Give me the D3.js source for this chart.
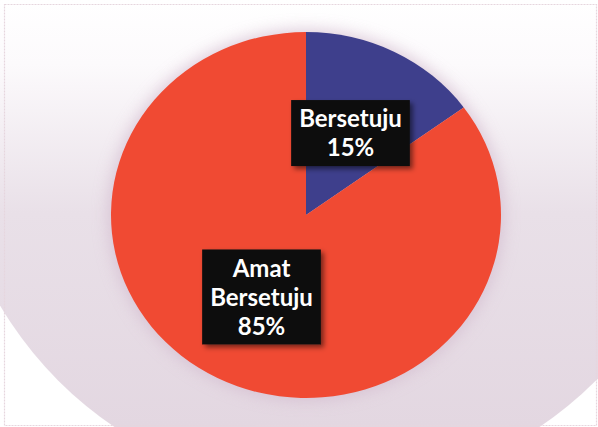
<!DOCTYPE html>
<html>
<head>
<meta charset="utf-8">
<script src="https://cdn.jsdelivr.net/npm/d3@7"></script>
<style>
  body { margin: 0; background: #fff; }
  svg { display: block; }
</style>
</head>
<body>
<div id="piechart"></div>
<script>
// data
var categories = ["Bersetuju", "Amat Bersetuju"];
var values = [15, 85];
var labelLines = [["Bersetuju", "15%"], ["Amat", "Bersetuju", "85%"]];
var colors = ["#3e3f8c", "#f04a33"];

var width = 598, height = 427;
var cx = 306, cy = 215;
var radius = 195;
var squash = 183 / 195; // the picture is a little wider than tall

var svg = d3.select("#piechart")
  .append("svg")
  .attr("width", width)
  .attr("height", height);

var defs = svg.append("defs");

// background fade, white at top to pinkish grey below
var grad = defs.append("linearGradient")
  .attr("id", "bg")
  .attr("x1", 0).attr("y1", 0).attr("x2", 0).attr("y2", 1);
grad.append("stop").attr("offset", "0%").attr("stop-color", "#ffffff");
grad.append("stop").attr("offset", "15%").attr("stop-color", "#fcfafc");
grad.append("stop").attr("offset", "50%").attr("stop-color", "#e9e0e8");
grad.append("stop").attr("offset", "100%").attr("stop-color", "#e3d7e1");

defs.append("clipPath").attr("id", "bgclip")
  .append("circle")
  .attr("cx", 327).attr("cy", 112).attr("r", 380);

defs.append("filter").attr("id", "glow")
  .attr("x", "-30%").attr("y", "-30%").attr("width", "160%").attr("height", "160%")
  .append("feGaussianBlur").attr("stdDeviation", 8);

var shadow = defs.append("filter").attr("id", "boxshadow")
  .attr("x", "-20%").attr("y", "-20%").attr("width", "150%").attr("height", "150%");
shadow.append("feDropShadow")
  .attr("dx", 3).attr("dy", 3).attr("stdDeviation", 2.5)
  .attr("flood-color", "#000").attr("flood-opacity", 0.5);

svg.append("rect")
  .attr("x", 0).attr("y", 0)
  .attr("width", width).attr("height", height)
  .attr("fill", "url(#bg)")
  .attr("clip-path", "url(#bgclip)");

// thin frame
svg.append("rect")
  .attr("x", 4.5).attr("y", 4.5)
  .attr("width", width - 6).attr("height", height - 6)
  .attr("fill", "none")
  .attr("stroke", "#e6d6de")
  .attr("stroke-width", 1.2)
  .attr("stroke-dasharray", "2,1");

var g = svg.append("g")
  .attr("transform", "translate(" + cx + "," + cy + ") scale(1," + squash + ")");

// soft glow round the pie
g.append("circle")
  .attr("r", radius + 3)
  .attr("fill", "#d3bccf")
  .attr("opacity", 0.75)
  .attr("filter", "url(#glow)");

var pie = d3.pie().sort(null).value(function(d) { return d; });
var arcs = pie(values);

var arc = d3.arc().innerRadius(0).outerRadius(radius);
var labelArc = d3.arc().innerRadius(98).outerRadius(98);

g.selectAll(".slice")
  .data(arcs)
  .enter()
  .append("path")
  .attr("class", "slice")
  .attr("d", arc)
  .attr("fill", function(d, i) { return colors[i]; });

// labels: black boxes with white bold text
var lineH = 29;
var labels = svg.selectAll(".label")
  .data(arcs)
  .enter()
  .append("g")
  .attr("class", "label")
  .attr("transform", function(d) {
    var c = labelArc.centroid(d);
    return "translate(" + (cx + c[0]) + "," + (cy + c[1] * squash) + ")";
  });

labels.each(function(d, i) {
  var lab = d3.select(this);
  var lines = labelLines[i];
  var box = lab.append("rect").attr("fill", "#111111").attr("filter", "url(#boxshadow)");
  var text = lab.append("text")
    .attr("text-anchor", "middle")
    .attr("fill", "#ffffff")
    .style("font-family", "Lato, 'Open Sans', sans-serif")
    .style("font-weight", "bold")
    .style("font-size", "24px");
  lines.forEach(function(t, k) {
    text.append("tspan")
      .attr("x", 0)
      .attr("y", (k - (lines.length - 1) / 2) * lineH)
      .attr("dy", "0.36em")
      .text(t);
  });
  var w = text.node().getBBox().width + 16;
  var h = lines.length * lineH + 8;
  box.attr("x", -w / 2).attr("y", -h / 2).attr("width", w).attr("height", h);
});
</script>
</body>
</html>
